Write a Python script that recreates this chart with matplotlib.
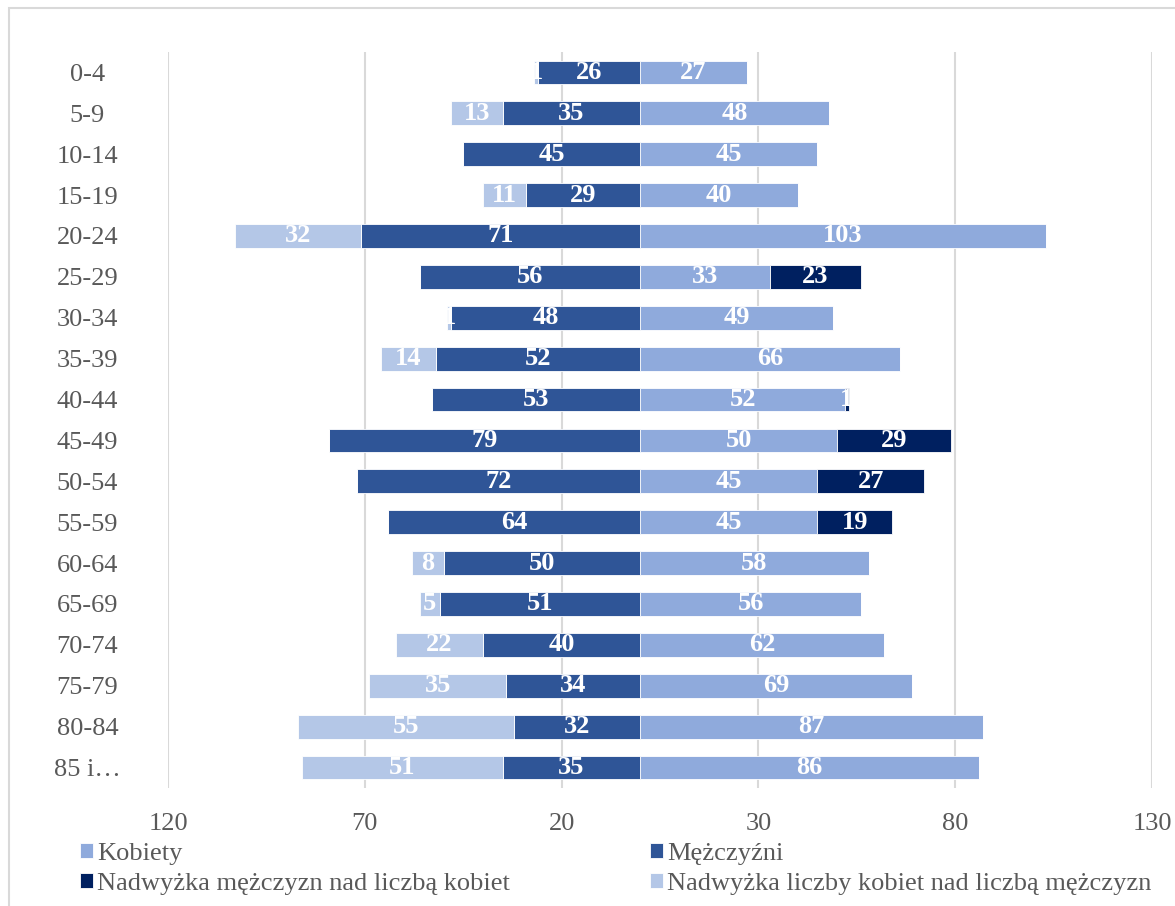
import numpy as np
import matplotlib.pyplot as plt
from matplotlib.patches import Rectangle

plt.rcParams['font.family'] = ['Liberation Serif', 'DejaVu Serif']

# age groups, top to bottom
groups = ['0-4', '5-9', '10-14', '15-19', '20-24', '25-29', '30-34', '35-39',
          '40-44', '45-49', '50-54', '55-59', '60-64', '65-69', '70-74',
          '75-79', '80-84', '85 i…']
kobiety = [27, 48, 45, 40, 103, 33, 49, 66, 52, 50, 45, 45, 58, 56, 62, 69, 87, 86]
mezczyzni = [26, 35, 45, 29, 71, 56, 48, 52, 53, 79, 72, 64, 50, 51, 40, 34, 32, 35]
nadw_mezczyzn = [0, 0, 0, 0, 0, 23, 0, 0, 1, 29, 27, 19, 0, 0, 0, 0, 0, 0]
nadw_kobiet = [1, 13, 0, 11, 32, 0, 1, 14, 0, 0, 0, 0, 8, 5, 22, 35, 55, 51]

ticks = [-120, -70, -20, 30, 80, 130]

c_kob = '#8FAADC'
c_mez = '#2F5597'
c_nm = '#002060'
c_nk = '#B4C7E7'

kob = np.array(kobiety)
mez = np.array(mezczyzni)
nm = np.array(nadw_mezczyzn)
nk = np.array(nadw_kobiet)
y = np.arange(len(groups))

fig = plt.figure(figsize=(11.75, 9.06), dpi=100)
ax = fig.add_axes([168/1175, 1-788/906, (1152-168)/1175, (788-52)/906])

h = 0.58
b1 = ax.barh(y, kob, height=h, color=c_kob, edgecolor='white', linewidth=0.6, label='Kobiety', zorder=3)
b2 = ax.barh(y, -mez, height=h, color=c_mez, edgecolor='white', linewidth=0.6, label='Mężczyźni', zorder=3)
b3 = ax.barh(y, nm, left=kob, height=h, color=c_nm, edgecolor='white', linewidth=0.6,
             label='Nadwyżka mężczyzn nad liczbą kobiet', zorder=3)
b4 = ax.barh(y, -nk, left=-mez, height=h, color=c_nk, edgecolor='white', linewidth=0.6,
             label='Nadwyżka liczby kobiet nad liczbą mężczyzn', zorder=3)

# value labels in the middle of each segment
for bars, vals in [(b1, kob), (b2, mez), (b3, nm), (b4, nk)]:
    for bar, v in zip(bars, vals):
        if v == 0:
            continue
        cx = bar.get_x() + bar.get_width() / 2
        cy = bar.get_y() + bar.get_height() / 2
        ax.text(cx, cy, str(v), ha='center', va='center', color='white',
                fontsize=19, fontweight='bold', zorder=4)

ax.set_xlim(-120, 130)
ax.set_ylim(len(groups) - 0.5, -0.5)
ax.set_xticks(ticks)
ax.set_xticklabels([str(abs(t)) for t in ticks])
ax.set_yticks(y)
ax.set_yticklabels(groups)
for lab in ax.get_yticklabels():
    lab.set_horizontalalignment('center')
ax.tick_params(axis='y', length=0, pad=58, labelsize=19, labelcolor='#595959')
ax.tick_params(axis='x', length=0, pad=18, labelsize=19, labelcolor='#595959')
ax.grid(axis='x', color='#D9D9D9', linewidth=1.5, zorder=0)
for s in ax.spines.values():
    s.set_visible(False)

# outer chart border
fig.patches.append(Rectangle((9/1175, -0.1), 1.2, 1.1 - 8/906, transform=fig.transFigure,
                             fill=False, edgecolor='#D9D9D9', linewidth=1.5))

handles = [b1, b3, b2, b4]
leg = fig.legend(handles, [hd.get_label() for hd in handles], ncol=2,
                 loc='upper left', bbox_to_anchor=(80/1175, 1-843/906),
                 frameon=False, fontsize=19, handlelength=0.5, handleheight=0.5,
                 handletextpad=0.15, columnspacing=5.3, labelspacing=0.3,
                 borderaxespad=0, borderpad=0)
for t in leg.get_texts():
    t.set_color('#595959')

fig.savefig('out.png', dpi=100)
